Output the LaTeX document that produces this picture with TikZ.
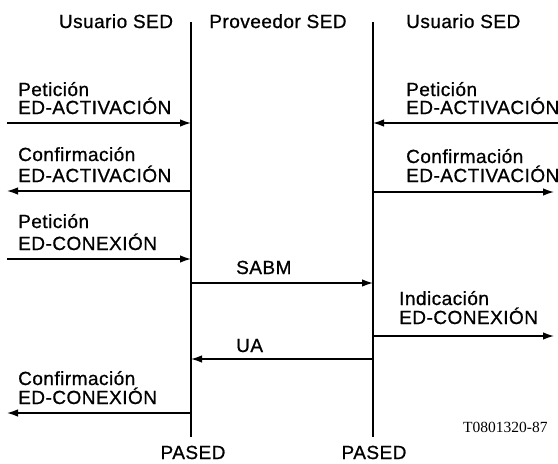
\documentclass[tikz,border=0pt]{standalone}
\usepackage{fontspec}
\setmainfont{Liberation Sans}[LetterSpace=2.5,FakeBold=0.8]
\newfontfamily\idfont{Liberation Serif}
\usetikzlibrary{arrows.meta}
\begin{document}
\begin{tikzpicture}[x=1pt,y=-1pt,
  lbl/.style={anchor=base west, inner sep=0pt, font=\fontsize{19}{19}\selectfont},
  hdr/.style={anchor=base, inner sep=0pt, font=\fontsize{19}{19}\selectfont},
  life/.style={line width=1.7pt},
  msg/.style={line width=1.4pt, -{Latex[length=11pt,width=7.5pt]}}]
\useasboundingbox (0,0) rectangle (558,464);
% lifelines
\coordinate (LT) at (191,22);
\coordinate (LB) at (191,437);
\coordinate (RT) at (373,22);
\coordinate (RB) at (373,437);
\draw[life] (LT) -- (LB);
\draw[life] (RT) -- (RB);
% headers
\node[hdr] (h1) at (116,28) {Usuario SED};
\node[hdr] (h2) at (278,28) {Proveedor SED};
\node[lbl] (h3) at (406,28) {Usuario SED};
% left-side labels
\node[lbl] (t1a) at (18,96) {Petición};
\node[lbl] (t1b) at (18,114) {ED-ACTIVACIÓN};
\node[lbl] (t2a) at (18,161) {Confirmación};
\node[lbl] (t2b) at (18,182) {ED-ACTIVACIÓN};
\node[lbl] (t3a) at (18,228) {Petición};
\node[lbl] (t3b) at (18,250) {ED-CONEXIÓN};
\node[lbl] (t7a) at (18,385) {Confirmación};
\node[lbl] (t7b) at (18,404) {ED-CONEXIÓN};
% right-side labels
\node[lbl] (r1a) at (406,96) {Petición};
\node[lbl] (r1b) at (406,114) {ED-ACTIVACIÓN};
\node[lbl] (r2a) at (406,163) {Confirmación};
\node[lbl] (r2b) at (406,182) {ED-ACTIVACIÓN};
\node[lbl] (r5a) at (399,305) {Indicación};
\node[lbl] (r5b) at (399,324) {ED-CONEXIÓN};
% middle labels
\node[lbl] (sabm) at (236,274) {SABM};
\node[lbl] (ua) at (236,352) {UA};
% bottom
\node[hdr] (p1) at (193,459) {PASED};
\node[hdr] (p2) at (374,459) {PASED};
\node[anchor=base west, inner sep=0pt, font=\idfont\fontsize{15.5}{15.5}\selectfont] (id) at (463,432) {T0801320-87};
% arrow endpoints
\coordinate (a1s) at (7,123);   \coordinate (a1e) at (191,123);
\coordinate (a2s) at (191,191); \coordinate (a2e) at (7,191);
\coordinate (a3s) at (7,259);   \coordinate (a3e) at (191,259);
\coordinate (a4s) at (191,283); \coordinate (a4e) at (373,283);
\coordinate (a5s) at (373,336); \coordinate (a5e) at (554,336);
\coordinate (a6s) at (373,359); \coordinate (a6e) at (191,359);
\coordinate (a7s) at (191,413); \coordinate (a7e) at (7,413);
\coordinate (b1s) at (558,123); \coordinate (b1e) at (373,123);
\coordinate (b2s) at (373,192); \coordinate (b2e) at (554,192);
\draw[msg] (a1s) -- (a1e);
\draw[msg] (a2s) -- (a2e);
\draw[msg] (a3s) -- (a3e);
\draw[msg] (a4s) -- (a4e);
\draw[msg] (a5s) -- (a5e);
\draw[msg] (a6s) -- (a6e);
\draw[msg] (a7s) -- (a7e);
\draw[msg] (b1s) -- (b1e);
\draw[msg] (b2s) -- (b2e);
\end{tikzpicture}
\end{document}
